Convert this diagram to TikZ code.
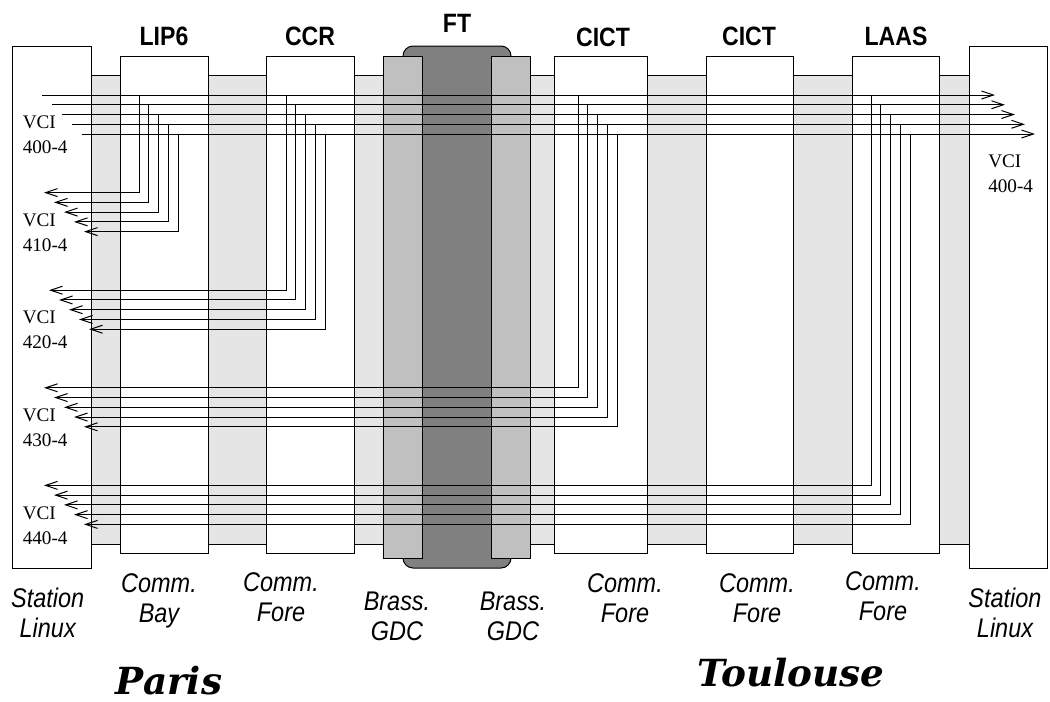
\documentclass[tikz,border=0pt]{standalone}
\usepackage{fontspec}
\setmainfont{Liberation Serif}
\setsansfont{Liberation Sans}
\newfontfamily\cityfont{DejaVu Serif}
\usepackage{graphicx}
\usetikzlibrary{arrows.meta,positioning}
\definecolor{band}{HTML}{E5E5E5}
\definecolor{brass}{HTML}{C0C0C0}
\definecolor{ftgray}{HTML}{808080}
\newcommand{\tallsf}[1]{\scalebox{1}[1.15]{#1}}

\begin{document}
\begin{tikzpicture}[x=0.75pt,y=-0.75pt]
    \tikzset{
      colbox/.style={draw=black,line width=0.75pt,fill=white},
      wire/.style={line width=0.75pt},
      goout/.style={wire,-{Straight Barb[length=9pt,width=6pt]}},
      retour/.style={wire,-{Straight Barb[length=9pt,width=6pt]}},
      site/.style={font=\sffamily\bfseries\fontsize{17.3}{20}\selectfont,anchor=base,inner sep=0pt},
      kindlab/.style={font=\sffamily\itshape\fontsize{17.6}{22.5}\selectfont,align=center,anchor=base,inner sep=0pt},
      vci/.style={font=\fontsize{14.4}{18.75}\selectfont,align=left,anchor=base west,inner sep=0pt},
      city/.style={font=\cityfont\bfseries\itshape\fontsize{28}{32}\selectfont,anchor=base,inner sep=0pt}
    }
    \useasboundingbox (0,0) rectangle (1050,701);
    % grey band and the two stations
    \draw[fill=band,line width=0.75pt] (91,75) rectangle (969,544);
    \draw[colbox] (12,46) rectangle (91,568);
    \draw[colbox] (969,46) rectangle (1047,568);
    \foreach \l/\r in {120/208,266/354,554/647,706/793,852/939}
      \draw[colbox] (\l,56) rectangle (\r,553);
    % FT with its two GDC
    \draw[fill=ftgray,line width=0.75pt,rounded corners=7.5pt] (403,46) rectangle (511,568);
    \draw[fill=brass,line width=0.75pt] (383,56) rectangle (422,558);
    \draw[fill=brass,line width=0.75pt] (491,56) rectangle (530,558);
    % VCI 400-4 going out
    \foreach \k in {0,...,4}
      \draw[goout] (42+10*\k,95+9.75*\k) -- (995+10*\k,95+9.75*\k);
    % loops back
    \foreach \g/\xv/\xt in {1/139/44,2/286/49,3/578/44,4/871/44} {
      \foreach \k in {0,...,4}
        \draw[retour] (\xv+9.8*\k,95+9.75*\k) |- (\xt+10*\k,95+97.6*\g+9.75*\k);
    }
    % labels
    \foreach \x/\y/\lab [count=\i] in {164/45/LIP6,310/45/CCR,457/32/FT,603/46/CICT,749/45/CICT,896/45/LAAS}
      \node[site] (top\i) at (\x,\y) {\tallsf{\lab}};
    % base is the baseline of the second line
    \foreach \x/\y/\a/\b [count=\i] in {47.7/637.5/Station/Linux,159/622/Comm./Bay,281/621/Comm./Fore,
        397/640/Brass./GDC,513/640/Brass./GDC,625/622/Comm./Fore,757/622/Comm./Fore,883/620/Comm./Fore,
        1005/637.5/Station/Linux}
      \node[kindlab] (kind\i) at (\x,\y) {\tallsf{\a}\\\tallsf{\b}};
    \foreach \v [count=\i from 0] in {400,410,420,430,440}
      \node[vci] (vci\v) at (22.5,153.3+97.7*\i) {VCI\\\v-4};
    \node[vci] (vciT) at (988,192.7) {VCI\\400-4};
    \node[city] (paris) at (169,694) {Paris};
    \node[city] (toulouse) at (791,686) {Toulouse};
  \end{tikzpicture}
\end{document}
